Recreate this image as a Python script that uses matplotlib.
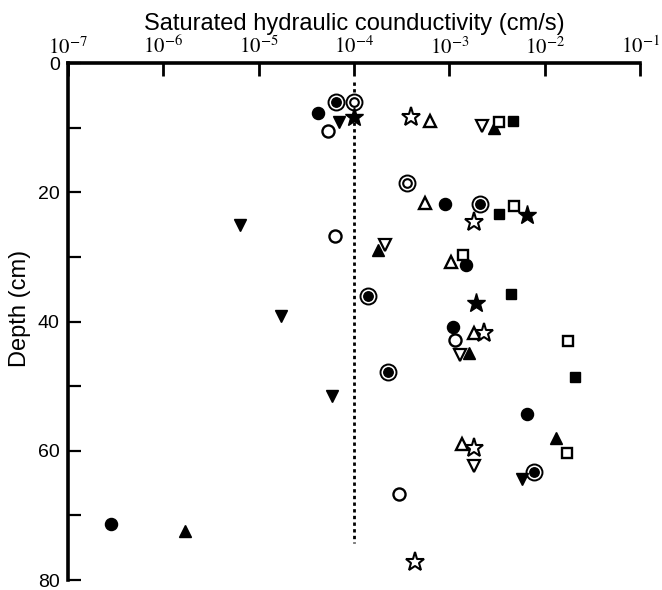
import matplotlib
matplotlib.use("Agg")
import matplotlib.pyplot as plt

plt.rcParams['font.family'] = ['Liberation Sans', 'DejaVu Sans']
plt.rcParams['mathtext.fontset'] = 'stix'

# Data: saturated hydraulic conductivity (cm/s) vs depth (cm), per marker type
filled_circle_k = [4.2e-5, 8.9e-4, 1.5e-3, 1.1e-3, 6.5e-3, 2.8e-7]
filled_circle_d = [7.8, 21.8, 31.3, 40.9, 54.3, 71.3]

open_circle_k = [5.4e-5, 6.3e-5, 1.15e-3, 3.0e-4]
open_circle_d = [10.5, 26.8, 42.8, 66.7]

dot_circle_k = [6.5e-5, 2.1e-3, 1.4e-4, 2.3e-4, 7.8e-3]
dot_circle_d = [6.1, 21.8, 36.1, 47.8, 63.3]

double_circle_k = [1.0e-4, 3.6e-4]
double_circle_d = [6.1, 18.5]

filled_star_k = [9.9e-5, 6.5e-3, 1.9e-3]
filled_star_d = [8.3, 23.5, 37.2]

open_star_k = [4.0e-4, 1.8e-3, 2.3e-3, 1.8e-3, 4.4e-4]
open_star_d = [8.3, 24.6, 41.8, 59.5, 77.2]

open_tri_k = [6.3e-4, 5.6e-4, 1.05e-3, 1.8e-3, 1.35e-3]
open_tri_d = [8.9, 21.7, 30.8, 41.8, 58.9]

filled_tri_k = [2.95e-3, 1.8e-4, 1.6e-3, 1.3e-2, 1.7e-6]
filled_tri_d = [10.1, 28.9, 44.8, 58.1, 72.4]

open_dtri_k = [2.2e-3, 2.1e-4, 1.3e-3, 1.8e-3]
open_dtri_d = [9.75, 28.2, 45.2, 62.4]

filled_dtri_k = [7.0e-5, 6.3e-6, 1.7e-5, 5.9e-5, 5.75e-3]
filled_dtri_d = [9.2, 25.1, 39.2, 51.5, 64.3]

open_sq_k = [3.3e-3, 4.8e-3, 1.4e-3, 1.75e-2, 1.7e-2]
open_sq_d = [9.1, 22.1, 29.7, 43.0, 60.3]

filled_sq_k = [4.7e-3, 3.3e-3, 4.4e-3, 2.1e-2]
filled_sq_d = [8.9, 23.3, 35.7, 48.6]

limit_k = [1e-4, 1e-4]
limit_d = [3.0, 74.3]

x_ticks = [1e-7, 1e-6, 1e-5, 1e-4, 1e-3, 1e-2, 1e-1]
x_tick_labels = [r'$10^{-7}$', r'$10^{-6}$', r'$10^{-5}$', r'$10^{-4}$',
                 r'$10^{-3}$', r'$10^{-2}$', r'$10^{-1}$']
y_major = [0, 20, 40, 60, 80]
y_minor = [10, 30, 50, 70]

fig = plt.figure(figsize=(6.62, 5.9), dpi=100)
ax = fig.add_axes([0.1027, 0.0169, 0.8641, 0.8763])

ax.plot(limit_k, limit_d, color='black', lw=2.0, linestyle=(0, (1.2, 1.2)), zorder=1)

common = dict(linestyle='none', color='black', zorder=3)
ax.plot(filled_circle_k, filled_circle_d, marker='o', ms=8.7, mfc='black', mec='black', **common)
ax.plot(open_circle_k, open_circle_d, marker='o', ms=8.7, mfc='white', mec='black', mew=1.7, **common)
ax.plot(dot_circle_k, dot_circle_d, marker='o', ms=11.5, mfc='white', mec='black', mew=1.4, **common)
ax.plot(dot_circle_k, dot_circle_d, marker='o', ms=6.8, mfc='black', mec='black', linestyle='none', zorder=4)
ax.plot(double_circle_k, double_circle_d, marker='o', ms=11.5, mfc='white', mec='black', mew=1.4, **common)
ax.plot(double_circle_k, double_circle_d, marker='o', ms=6.2, mfc='white', mec='black', mew=1.5, linestyle='none', zorder=4)
ax.plot(filled_star_k, filled_star_d, marker='*', ms=14, mfc='black', mec='black', **common)
ax.plot(open_star_k, open_star_d, marker='*', ms=14, mfc='white', mec='black', mew=1.5, **common)
ax.plot(open_tri_k, open_tri_d, marker='^', ms=8, mfc='white', mec='black', mew=1.7, **common)
ax.plot(filled_tri_k, filled_tri_d, marker='^', ms=8.5, mfc='black', mec='black', **common)
ax.plot(open_dtri_k, open_dtri_d, marker='v', ms=8, mfc='white', mec='black', mew=1.6, **common)
ax.plot(filled_dtri_k, filled_dtri_d, marker='v', ms=8, mfc='black', mec='black', **common)
ax.plot(open_sq_k, open_sq_d, marker='s', ms=7.3, mfc='white', mec='black', mew=1.7, **common)
ax.plot(filled_sq_k, filled_sq_d, marker='s', ms=7.8, mfc='black', mec='black', **common)

ax.set_xscale('log')
ax.set_xlim(1e-7, 1e-1)
ax.set_ylim(80, 0)

ax.xaxis.tick_top()
ax.xaxis.set_label_position('top')
ax.set_xticks(x_ticks)
ax.set_xticklabels(x_tick_labels, fontsize=15)
ax.xaxis.set_minor_locator(matplotlib.ticker.NullLocator())
ax.set_yticks(y_major)
ax.set_yticks(y_minor, minor=True)
ax.set_yticklabels([str(v) for v in y_major], fontsize=14)

ax.tick_params(axis='x', which='major', direction='in', length=9, width=2, pad=4)
ax.tick_params(axis='y', which='both', direction='in', length=9, width=1.6, pad=6)

for s in ['right', 'bottom']:
    ax.spines[s].set_visible(False)
for s in ['left', 'top']:
    ax.spines[s].set_linewidth(2.6)

ax.set_xlabel('Saturated hydraulic counductivity (cm/s)', fontsize=17, labelpad=4)
ax.set_ylabel('Depth (cm)', fontsize=17)
ax.yaxis.set_label_coords(-0.064, 0.526)

fig.savefig('out.png', dpi=100)
